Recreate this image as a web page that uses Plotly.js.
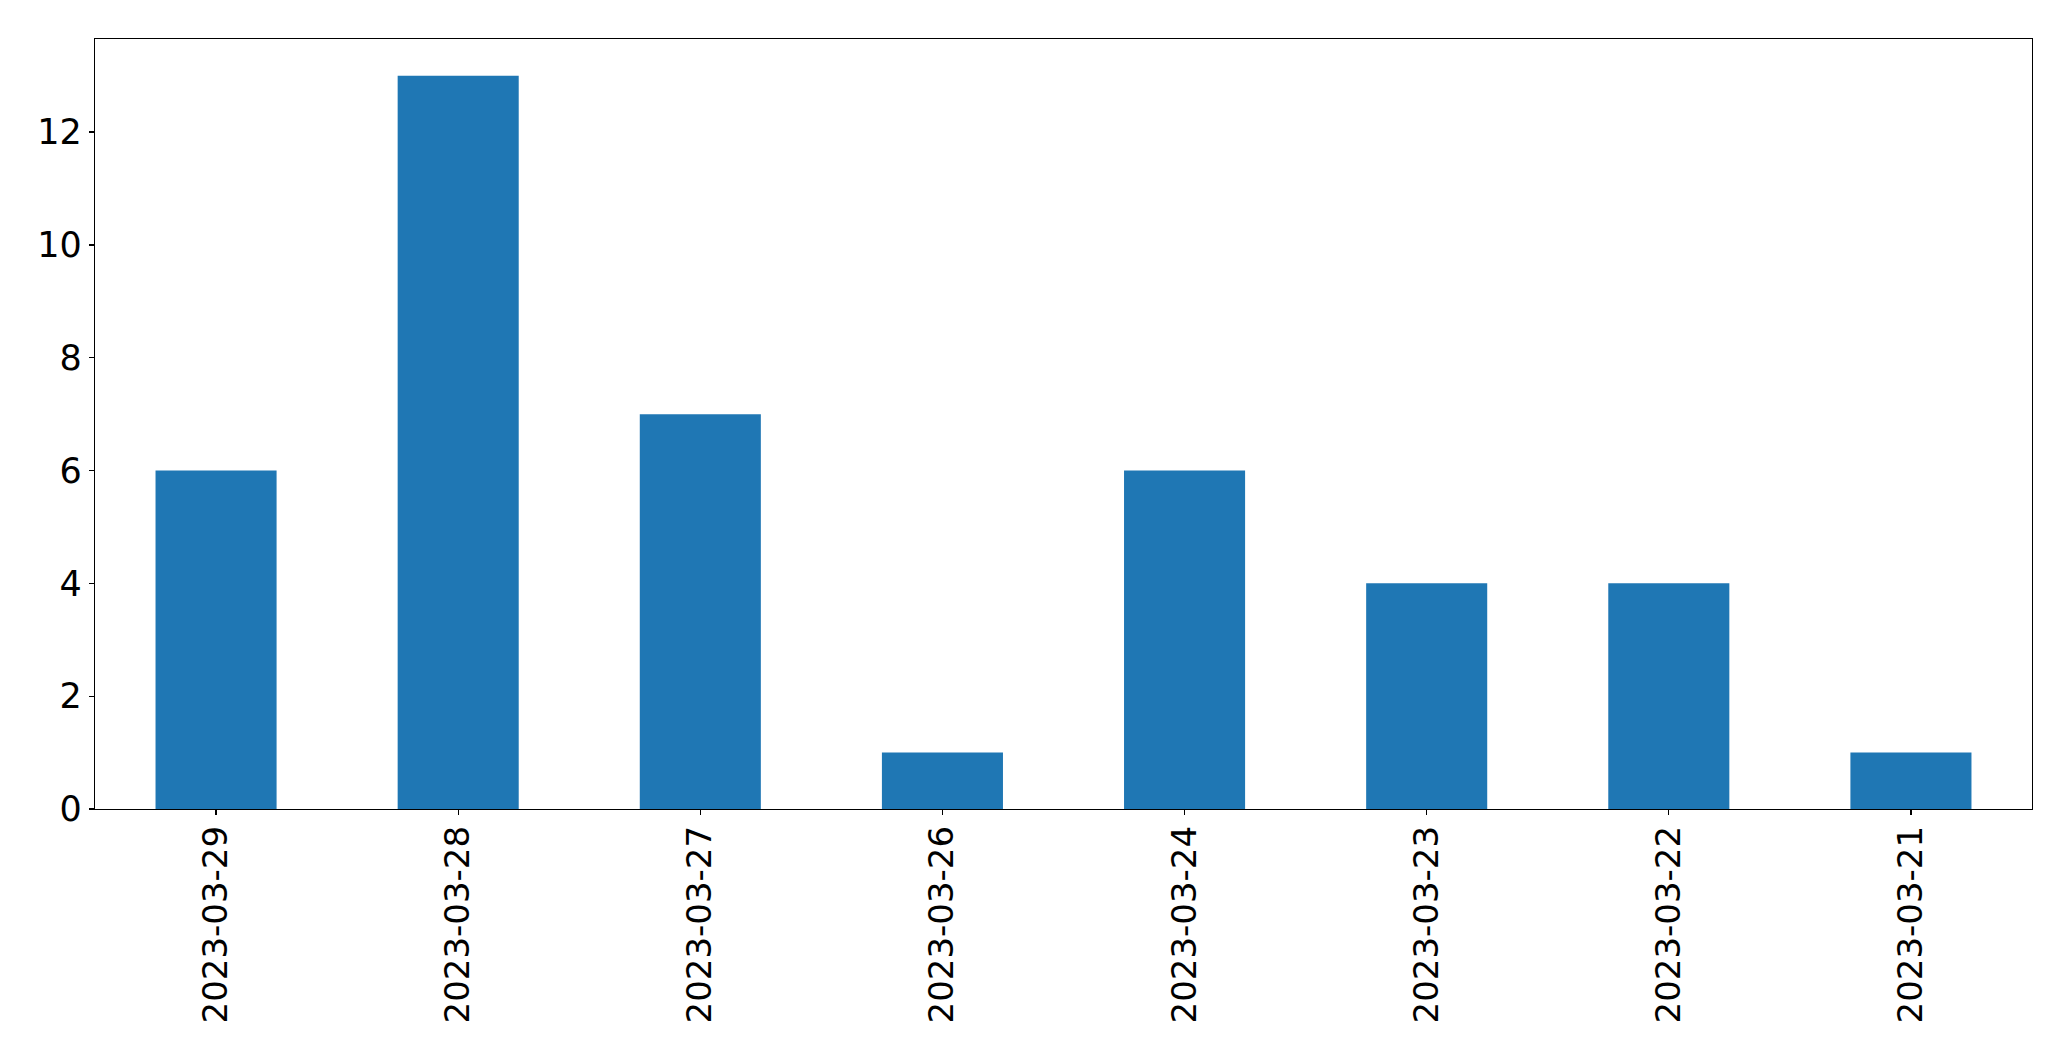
<!DOCTYPE html>
<html>
<head>
<meta charset="utf-8">
<script src="https://cdn.plot.ly/plotly-3.0.1.min.js"></script>
<style>html,body{margin:0;padding:0;background:#fff;}#chart{width:2071px;height:1061px;}</style>
</head>
<body>
<div id="chart"></div>
<script>
const dates = ["2023-03-29","2023-03-28","2023-03-27","2023-03-26","2023-03-24","2023-03-23","2023-03-22","2023-03-21"];
const counts = [6, 13, 7, 1, 6, 4, 4, 1];
const yTicks = [0, 2, 4, 6, 8, 10, 12];

const trace = {
  type: 'bar',
  x: dates,
  y: counts,
  width: 0.5,
  marker: {color: '#1f77b4', line: {width: 0}},
  hoverinfo: 'x+y'
};

const xFont = {family: 'DejaVu Sans, sans-serif', size: 34, color: '#000'};
const yFont = {family: 'DejaVu Sans, sans-serif', size: 35, color: '#000'};

const layout = {
  width: 2071,
  height: 1061,
  margin: {l: 95, r: 39, t: 39, b: 252, pad: 0},
  paper_bgcolor: '#fff',
  plot_bgcolor: '#fff',
  showlegend: false,
  font: xFont,
  xaxis: {
    type: 'category',
    range: [-0.5, 7.5],
    tickangle: -90,
    ticks: 'outside',
    ticklen: 5,
    tickwidth: 1.3,
    tickcolor: '#000',
    ticklabelstandoff: -3,
    showline: true,
    linecolor: '#000',
    linewidth: 1.3,
    mirror: true,
    showgrid: false,
    zeroline: false,
    tickfont: xFont,
    automargin: false
  },
  yaxis: {
    range: [0, 13.65],
    tickvals: yTicks,
    ticktext: yTicks.map(String),
    ticks: 'outside',
    ticklen: 5,
    tickwidth: 1.3,
    tickcolor: '#000',
    showline: true,
    linecolor: '#000',
    linewidth: 1.3,
    mirror: true,
    showgrid: false,
    zeroline: false,
    tickfont: yFont,
    automargin: false
  }
};

Plotly.newPlot('chart', [trace], layout, {displayModeBar: false, staticPlot: true});
</script>
</body>
</html>
